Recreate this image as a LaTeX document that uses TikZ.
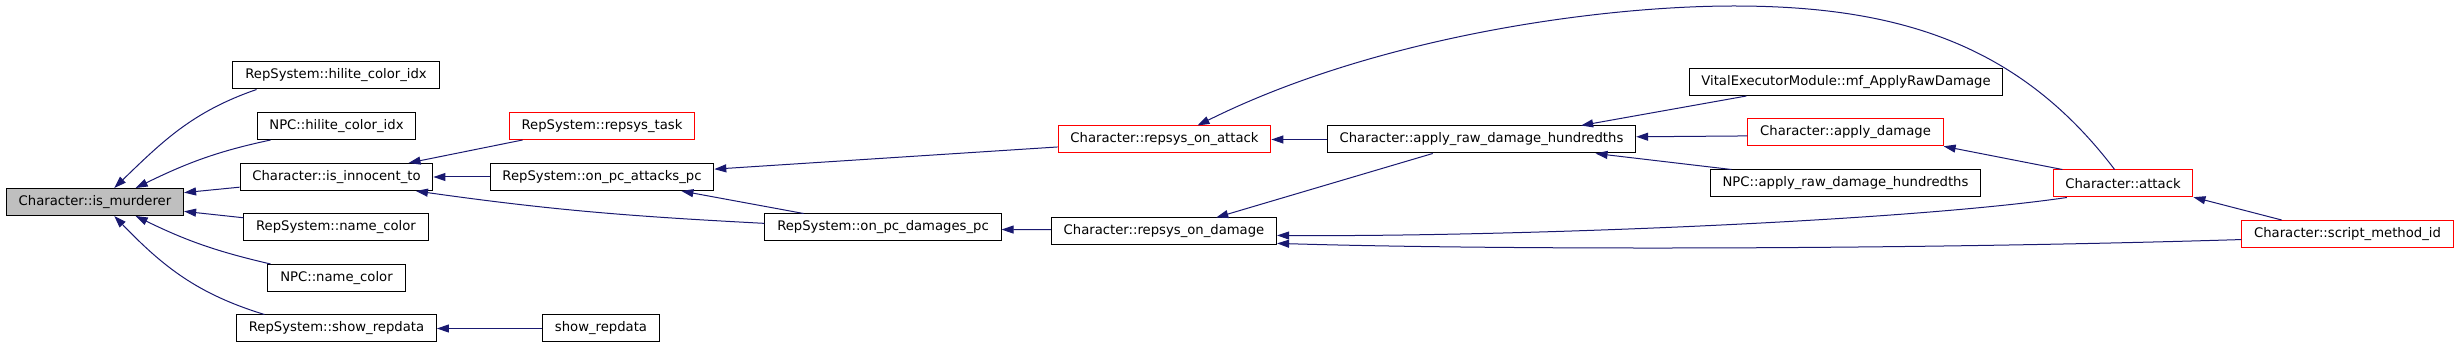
\documentclass[tikz,border=0pt]{standalone}
\usepackage{fontspec}
\setmainfont{DejaVu Sans}
\usetikzlibrary{
	arrows.meta,
	positioning
}
\definecolor{edgeblue}{HTML}{191970}
\definecolor{maingray}{HTML}{BFBFBF}

\begin{document}
\begin{tikzpicture}[
			x=0.5pt,
			y=0.5pt,
			func/.style={
				rectangle,
				draw,
				line width=0.5pt,
				inner xsep=6.15pt,
				inner ysep=0pt,
				minimum height=13.5pt,
				font=\fontsize{6.6pt}{8pt}\selectfont
			},
			funcred/.style={
				func,
				draw=red
			},
			funcmain/.style={
				func,
				fill=maingray
			},
			arr/.style={
				edgeblue,
				line width=0.5pt,
				-{Triangle[length=6pt,width=4pt]}
			}
			]
			
			\useasboundingbox (0,0) rectangle (2459,-347);
			
			% callee
			\node[funcmain] (mur) at (95,-202) {Character::is\_murderer};
			
			% first column of callers
			\node[func] (rhil) at (336,-75.5) {RepSystem::hilite\_color\_idx};
			\node[func] (nhil) at (336.5,-126) {NPC::hilite\_color\_idx};
			\node[func] (inno) at (336.5,-177) {Character::is\_innocent\_to};
			\node[func] (rnam) at (336,-227.5) {RepSystem::name\_color};
			\node[func] (nnam) at (336.5,-278) {NPC::name\_color};
			\node[func] (rshow) at (336.5,-328.5) {RepSystem::show\_repdata};
			
			% second column
			\node[funcred] (task) at (602,-126) {RepSystem::repsys\_task};
			\node[func] (atkpc) at (602,-177) {RepSystem::on\_pc\_attacks\_pc};
			\node[func] (show) at (601,-328.5) {show\_repdata};
			\node[func] (dmgpc) at (883,-227.5) {RepSystem::on\_pc\_damages\_pc};
			
			% repsys hooks
			\node[funcred] (ronatk) at (1164.5,-139.5) {Character::repsys\_on\_attack};
			\node[func] (rondmg) at (1164,-231.5) {Character::repsys\_on\_damage};
			\node[func] (raw) at (1481.5,-139.5) {Character::apply\_raw\_damage\_hundredths};
			
			% outer callers
			\node[func] (vital) at (1846,-82) {VitalExecutorModule::mf\_ApplyRawDamage};
			\node[funcred] (apdmg) at (1845.5,-132.5) {Character::apply\_damage};
			\node[func] (npcraw) at (1845.5,-183.5) {NPC::apply\_raw\_damage\_hundredths};
			\node[funcred] (attack) at (2123,-183.5) {Character::attack};
			\node[funcred] (script) at (2347.5,-234) {Character::script\_method\_id};
			
			% into is_murderer
			\draw[arr] (rhil.190.5) to[out=199,in=44] (mur.36);
			\draw[arr] (nhil.192) to[out=192,in=26] (mur.19);
			\draw[arr] (inno.186) -- (mur.6);
			\draw[arr] (rnam.174) -- (mur.-6);
			\draw[arr] (nnam.168) to[out=167,in=-26] (mur.-19);
			\draw[arr] (rshow.169.6) to[out=163,in=-46] (mur.-36);
			
			\draw[arr] (task.190) -- (inno.11);
			\draw[arr] (atkpc) -- (inno);
			\draw[arr] (dmgpc.178) to[out=177,in=-8] (inno.-10);
			\draw[arr] (show) -- (rshow);
			
			\draw[arr] (ronatk.184) -- (atkpc.4);
			\draw[arr] (dmgpc.170) -- (atkpc.-10);
			\draw[arr] (rondmg.179) -- (dmgpc.-1);
			
			\draw[arr] (raw) -- (ronatk);
			\draw[arr] (attack.121) .. controls (2020,-45) and (1900,-6) .. (1734,-6)
				.. controls (1600,-6) and (1376,-36.6) .. (ronatk.23);
			\draw[arr] (raw.196) -- (rondmg.15);
			\draw[arr] (attack.194) .. controls (1900,-222) and (1500,-237) .. (rondmg.-2);
			\draw[arr] (script.183) .. controls (1900,-250) and (1500,-250) .. (rondmg.-6);
			
			\draw[arr] (vital.188) -- (raw.8);
			\draw[arr] (apdmg.182) -- (raw.1);
			\draw[arr] (npcraw.173) -- (raw.-7);
			\draw[arr] (attack.167) -- (apdmg.-8);
			\draw[arr] (script.168) -- (attack.-11);
			
		\end{tikzpicture}
\end{document}
